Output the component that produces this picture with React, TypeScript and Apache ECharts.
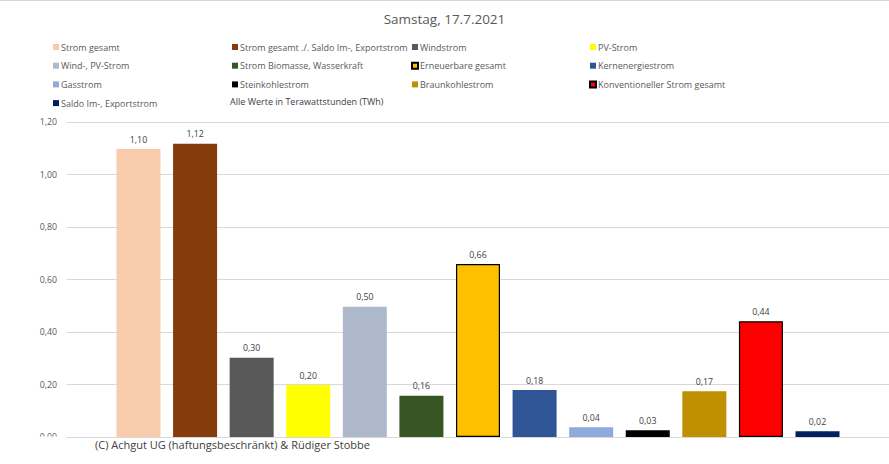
import React, { useEffect, useRef } from "react";
import * as echarts from "echarts";

const titleText = "Samstag, 17.7.2021";
const categories = [""];
const seriesNames = [
  "Strom gesamt",
  "Strom gesamt ./. Saldo Im-, Exportstrom",
  "Windstrom",
  "PV-Strom",
  "Wind-, PV-Strom",
  "Strom Biomasse, Wasserkraft",
  "Erneuerbare gesamt",
  "Kernenergiestrom",
  "Gasstrom",
  "Steinkohlestrom",
  "Braunkohlestrom",
  "Konventioneller Strom gesamt",
  "Saldo Im-, Exportstrom",
];
const seriesValues = [1.097, 1.117, 0.302, 0.198, 0.496, 0.157, 0.659, 0.179, 0.037, 0.026, 0.174, 0.441, 0.022];
const seriesColors = [
  "#F8CBAD", "#843C0C", "#595959", "#FFFF00", "#ADB9CA", "#375623", "#FFC000",
  "#2F5597", "#8FAADC", "#000000", "#BF9000", "#FF0000", "#002060",
];
const bordered = [false, false, false, false, false, false, true, false, false, false, false, true, false];
const legendColumns = [
  ["Strom gesamt", "Wind-, PV-Strom", "Gasstrom", "Saldo Im-, Exportstrom"],
  ["Strom gesamt ./. Saldo Im-, Exportstrom", "Strom Biomasse, Wasserkraft", "Steinkohlestrom"],
  ["Windstrom", "Erneuerbare gesamt", "Braunkohlestrom"],
  ["PV-Strom", "Kernenergiestrom", "Konventioneller Strom gesamt"],
];
const yTicks = { min: 0, max: 1.2, interval: 0.2 };
const unitNote = "Alle Werte in Terawattstunden (TWh)";
const footer = "(C) Achgut UG (haftungsbeschränkt) & Rüdiger Stobbe";

const FONT = "'Open Sans', 'Noto Sans', sans-serif";
const fmt = (v: number) => v.toFixed(2).replace(".", ",");

export default function App() {
  const ref = useRef<HTMLDivElement>(null);
  useEffect(() => {
    if (!ref.current) return;
    const chart = echarts.init(ref.current, null, { renderer: "svg" });
    const legendLefts = [53, 232, 411, 589];
    chart.setOption({
      animation: false,
      backgroundColor: "#ffffff",
      textStyle: { fontFamily: FONT },
      title: {
        text: titleText,
        left: "center",
        top: 7,
        textStyle: { fontFamily: FONT, fontSize: 13.5, fontWeight: "normal", color: "#595959" },
      },
      legend: legendColumns.map((col, i) => ({
        data: col,
        orient: "vertical",
        left: legendLefts[i],
        top: 41,
        itemWidth: 6,
        itemHeight: 6,
        itemGap: 6.7,
        padding: 0,
        icon: "rect",
        textStyle: {
          fontFamily: FONT,
          fontSize: 9,
          color: "#595959",
          lineHeight: 12,
          padding: [0, 0, 0, -3],
        },
      })),
      grid: { left: 67, right: 0, top: 122, bottom: 27 },
      xAxis: {
        type: "category",
        data: categories,
        axisLine: { show: true, lineStyle: { color: "#D9D9D9", width: 1 } },
        axisTick: { show: false },
        axisLabel: { show: false },
      },
      yAxis: {
        type: "value",
        min: yTicks.min,
        max: yTicks.max,
        interval: yTicks.interval,
        axisLine: { show: false },
        axisTick: { show: false },
        splitLine: { lineStyle: { color: "#D9D9D9", width: 1 } },
        axisLabel: {
          formatter: (v: number) => fmt(v),
          fontFamily: FONT,
          fontSize: 8.8,
          color: "#595959",
          margin: 10,
        },
      },
      series: seriesNames.map((name, i) => ({
        name,
        type: "bar",
        data: [seriesValues[i]],
        barWidth: 44,
        barGap: "28.6%",
        itemStyle: {
          color: seriesColors[i],
          borderColor: bordered[i] ? "#000000" : undefined,
          borderWidth: bordered[i] ? 1.2 : 0,
        },
        label: {
          show: true,
          position: "top",
          distance: 5,
          formatter: (p: any) => fmt(p.value),
          fontFamily: FONT,
          fontSize: 8.8,
          color: "#404040",
        },
      })),
      graphic: [
        {
          type: "line",
          shape: { x1: 0, y1: 0.5, x2: 889, y2: 0.5 },
          style: { stroke: "#D9D9D9", lineWidth: 1 },
        },
        {
          type: "text",
          left: 230,
          top: 97,
          style: { text: unitNote, fontFamily: FONT, fontSize: 9, fill: "#404040" },
        },
        {
          type: "rect",
          shape: { x: 20, y: 436.5, width: 45, height: 28 },
          style: { fill: "#ffffff" },
          z: 100,
        },
        {
          type: "text",
          left: 95,
          top: 439,
          z: 101,
          style: { text: footer, fontFamily: FONT, fontSize: 11, fill: "#404040" },
        },
      ],
    });
    return () => chart.dispose();
  }, []);
  return (
    <div
      ref={ref}
      style={{ position: "absolute", left: 0, top: 0, width: 889, height: 464 }}
    />
  );
}
